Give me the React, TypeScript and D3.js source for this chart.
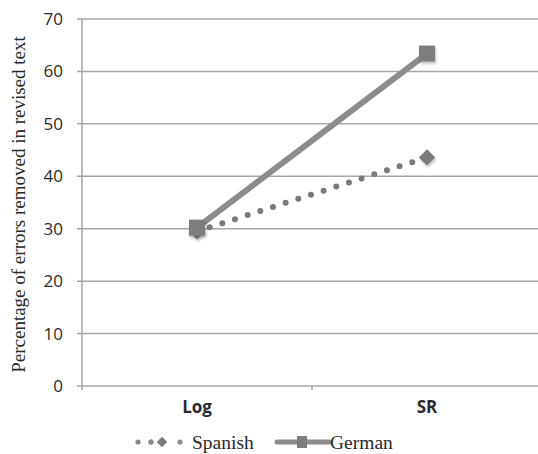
import React from "react";
import * as d3 from "d3";

const categories = ["Log", "SR"];
const spanish = [29.5, 43.6];
const german = [30.2, 63.4];
const yTicks = [0, 10, 20, 30, 40, 50, 60, 70];
const seriesNames = ["Spanish", "German"];

export default function App() {
  const W = 538, H = 454;
  const left = 82, right = 542, top = 19, bottom = 386;
  const x = d3.scaleBand<string>().domain(categories).range([left, right]);
  const y = d3.scaleLinear().domain([0, 70]).range([bottom, top]);
  const cx = (c: string) => (x(c) as number) + x.bandwidth() / 2;
  const line = d3.line<number>().x((_, i) => cx(categories[i])).y((d) => y(d));
  const grid = "#a6a6a6";
  const sans = "'Open Sans', 'Liberation Sans', Arial, sans-serif";
  const serif = "'Liberation Serif', 'Times New Roman', serif";
  const diamond = d3.symbol().type(d3.symbolDiamond2 ?? d3.symbolSquare).size(170)();
  const ly = 442;
  return (
    <svg width={W} height={H} style={{ position: "absolute", left: 0, top: 0, background: "#fff" }}>
      <defs>
        <filter id="sh" x="-50%" y="-50%" width="200%" height="200%">
          <feDropShadow dx="1" dy="2" stdDeviation="1.5" floodColor="#000" floodOpacity="0.25" />
        </filter>
      </defs>
      {yTicks.map((t) => (
        <g key={t}>
          <line x1={left - 5} x2={W} y1={y(t)} y2={y(t)} stroke={grid} strokeWidth={1.5} />
          <text x={63} y={y(t)} dy="0.35em" textAnchor="end" fontFamily={sans} fontSize={17} fill="#2a2a2a">
            {t}
          </text>
        </g>
      ))}
      <line x1={left} x2={left} y1={top} y2={bottom + 4} stroke={grid} strokeWidth={1.5} />
      {categories.map((c) => (
        <g key={c}>
          <line x1={(x(c) as number) + x.bandwidth()} x2={(x(c) as number) + x.bandwidth()} y1={bottom} y2={bottom + 4} stroke={grid} strokeWidth={1.5} />
          <text x={cx(c)} y={407} dy="0.35em" textAnchor="middle" fontFamily={sans} fontWeight="bold" fontSize={17} fill="#2a2a2a">
            {c}
          </text>
        </g>
      ))}
      <text transform={`translate(18,${(top + bottom) / 2 + 2}) rotate(-90)`} textAnchor="middle" dy="0.35em" fontFamily={serif} fontSize={19} fill="#2a2a2a">
        Percentage of errors removed in revised text
      </text>
      {/* German */}
      <path d={line(german) as string} fill="none" stroke="#8c8c8c" strokeWidth={6} />
      {/* Spanish */}
      <path d={line(spanish) as string} fill="none" stroke="#7a7a7a" strokeWidth={6} strokeDasharray="0 13.3" strokeLinecap="round" />
      {spanish.map((v, i) => (
        <path key={i} d={diamond as string} transform={`translate(${cx(categories[i])},${y(v)})`} fill="#7a7a7a" filter="url(#sh)" />
      ))}
      {german.map((v, i) => (
        <rect key={i} x={cx(categories[i]) - 8} y={y(v) - 8} width={16} height={16} fill="#7d7d7d" filter="url(#sh)" />
      ))}
      {/* Legend */}
      <g>
        {[138, 151, 180].map((px) => (
          <circle key={px} cx={px} cy={ly} r={2.6} fill="#8a8a8a" />
        ))}
        <line x1={151} x2={173} y1={ly} y2={ly} stroke="#8a8a8a" strokeWidth={5} strokeDasharray="0 11" strokeLinecap="round" />
        <path d={d3.symbol().type(d3.symbolDiamond2 ?? d3.symbolSquare).size(70)() as string} transform={`translate(162,${ly})`} fill="#7a7a7a" />
        <text x={192} y={ly} dy="0.35em" fontFamily={serif} fontSize={19.5} fill="#2a2a2a">{seriesNames[0]}</text>
        <line x1={277} x2={329} y1={ly} y2={ly} stroke="#8c8c8c" strokeWidth={5} strokeLinecap="round" />
        <rect x={297} y={ly - 6} width={10} height={12} fill="#7d7d7d" />
        <text x={330} y={ly} dy="0.35em" fontFamily={serif} fontSize={19.5} fill="#2a2a2a">{seriesNames[1]}</text>
      </g>
    </svg>
  );
}
